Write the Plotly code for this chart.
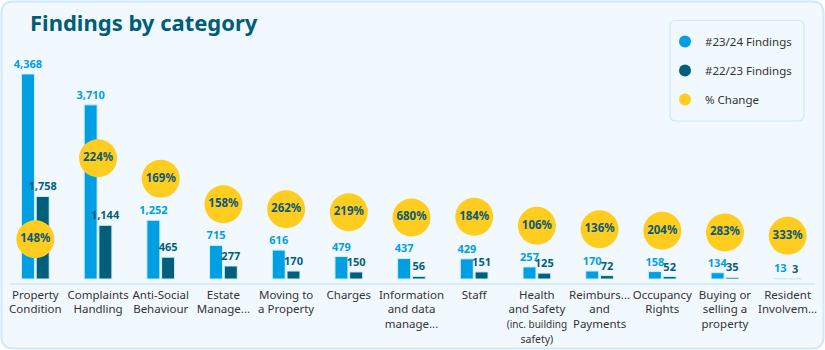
import plotly.graph_objects as go

categories = ["Property Condition", "Complaints Handling", "Anti-Social Behaviour",
              "Estate Management", "Moving to a Property", "Charges",
              "Information and data management", "Staff",
              "Health and Safety (inc. building safety)", "Reimbursements and Payments",
              "Occupancy Rights", "Buying or selling a property", "Resident Involvement"]
tick_labels = ["Property<br>Condition", "Complaints<br>Handling", "Anti-Social<br>Behaviour",
               "Estate<br>Manage...", "Moving to<br>a Property", "Charges",
               "Information<br>and data<br>manage...", "Staff",
               "Health<br>and Safety<br><span style='font-size:10px'>(inc. building</span><br><span style='font-size:10.5px'>safety)</span>",
               "Reimburs...<br>and<br>Payments", "Occupancy<br>Rights",
               "Buying or<br>selling a<br>property", "Resident<br>Involvem..."]
findings_2324 = [4368, 3710, 1252, 715, 616, 479, 437, 429, 257, 170, 158, 134, 13]
findings_2223 = [1758, 1144, 465, 277, 170, 150, 56, 151, 125, 72, 52, 35, 3]
# vertical level at which each % change bubble sits (primary axis units)
change_label_level = [848, 2572, 2137, 1594, 1487, 1423, 1310, 1325, 1133, 1061, 1027, 991, 920]
pct_change = [round((a / b - 1) * 100) for a, b in zip(findings_2324, findings_2223)]

BLUE = "#009fe3"
DARK = "#00607b"
YELLOW = "#ffcd1f"
FONT = "Noto Sans"

# plot-area pixel geometry
W, H = 825, 350
ML, MR, MT, MB = 4, 6, 60, 66
PW = W - ML - MR
PH = H - MT - MB


def px(x):
    return (x - ML) / PW


def py(y):
    return (H - MB - y) / PH


def rrect(x0, y0, x1, y1, r):
    pts = [
        f"M {px(x0 + r)},{py(y0)}",
        f"L {px(x1 - r)},{py(y0)}",
        f"Q {px(x1)},{py(y0)} {px(x1)},{py(y0 + r)}",
        f"L {px(x1)},{py(y1 - r)}",
        f"Q {px(x1)},{py(y1)} {px(x1 - r)},{py(y1)}",
        f"L {px(x0 + r)},{py(y1)}",
        f"Q {px(x0)},{py(y1)} {px(x0)},{py(y1 - r)}",
        f"L {px(x0)},{py(y0 + r)}",
        f"Q {px(x0)},{py(y0)} {px(x0 + r)},{py(y0)}",
        "Z",
    ]
    return " ".join(pts)


fig = go.Figure()
fig.add_trace(go.Bar(
    x=categories, y=findings_2324, name="#23/24 Findings", showlegend=False,
    marker=dict(color=BLUE, line=dict(color="#cfeefb", width=1)),
    texttemplate="%{y:,}", textposition="outside", cliponaxis=False, constraintext="none",
    textfont=dict(color=BLUE, size=11, family=FONT, weight="bold"),
))
fig.add_trace(go.Bar(
    x=categories, y=findings_2223, name="#22/23 Findings", showlegend=False,
    marker=dict(color=DARK, line=dict(color="#cfeefb", width=1)),
    texttemplate="%{y:,}", textposition="outside", cliponaxis=False, constraintext="none",
    textfont=dict(color=DARK, size=11, family=FONT, weight="bold"),
))
fig.add_trace(go.Scatter(
    x=categories, y=change_label_level, mode="markers+text", showlegend=False,
    marker=dict(size=38, color=YELLOW), cliponaxis=False,
    text=[f"{p}%" for p in pct_change], textposition="middle center",
    textfont=dict(color="#0b5a74", size=11.5, family=FONT, weight="bold"),
))
# legend entries
for nm, col, grp in [("#23/24 Findings", BLUE, "a"), ("#22/23 Findings", DARK, "b"), ("% Change", YELLOW, "c")]:
    fig.add_trace(go.Scatter(x=[None], y=[None], mode="markers", name=nm, legendgroup=grp,
                             marker=dict(size=12, color=col, symbol="circle")))

fig.update_layout(
    width=W, height=H,
    margin=dict(l=ML, r=MR, t=MT, b=MB, autoexpand=False),
    paper_bgcolor="white", plot_bgcolor="rgba(0,0,0,0)",
    barmode="group", bargap=0.53, bargroupgap=0.12,
    font=dict(family=FONT, color="#333333"),
    title=dict(text="<b>Findings by category</b>", x=30 / W, xanchor="left", xref="container",
               y=1 - 23 / H, yanchor="middle", yref="container",
               font=dict(size=22, color="#005d7a", family=FONT)),
    legend=dict(x=px(665), y=py(27), xanchor="left", yanchor="top",
                bgcolor="rgba(0,0,0,0)", font=dict(size=11.5, color="#333333"),
                tracegroupgap=10, itemsizing="trace"),
    xaxis=dict(tickmode="array", tickvals=categories, ticktext=tick_labels, tickangle=0,
               range=[-0.5, len(categories) - 0.5], autorange=False,
               automargin=False, ticklabelstandoff=2,
               tickfont=dict(size=11.5, color="#333333"), showline=False, showgrid=False,
               ticks="", fixedrange=True),
    yaxis=dict(range=[-106.5, 4666], visible=False, showgrid=False, zeroline=False,
               automargin=False),
    shapes=[
        dict(type="path", xref="paper", yref="paper", path=rrect(1.5, 1.5, 823.5, 348.5, 12),
             fillcolor="#f2f9fe", line=dict(color="#cfe9f7", width=2), layer="below"),
        dict(type="path", xref="paper", yref="paper", path=rrect(670, 20.5, 804, 121, 6),
             fillcolor="rgba(0,0,0,0)", line=dict(color="#cfe9f7", width=1.2), layer="below"),
        dict(type="line", xref="paper", yref="paper", x0=px(10), x1=px(815), y0=0, y1=0,
             line=dict(color="#cfe9f7", width=1.5), layer="below"),
    ],
)

fig.write_html("out.html")
